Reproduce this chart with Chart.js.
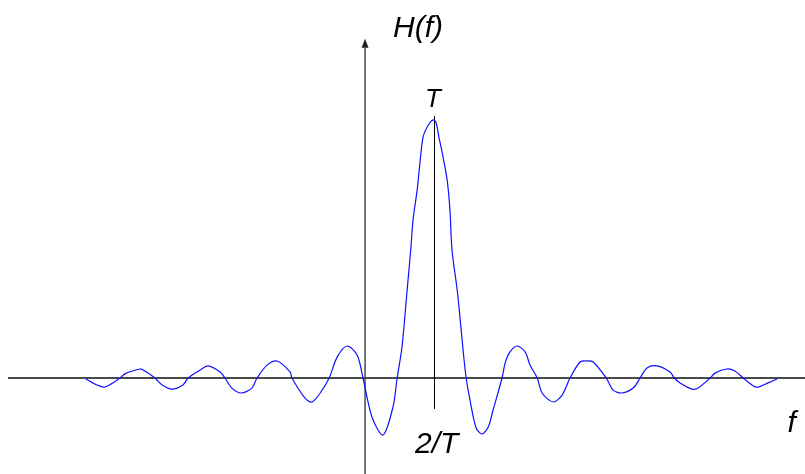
<!DOCTYPE html>
<html>
<head>
<meta charset="utf-8">
<script src="https://cdn.jsdelivr.net/npm/chart.js@4"></script>
<style>
  html, body { margin: 0; padding: 0; background: #fff; }
  #wrap { width: 805px; height: 474px; }
</style>
</head>
<body>
<div id="wrap"><canvas id="grafico"></canvas></div>
<script>
// f en unidades de 1/T, H(f) en unidades de T
const frecuencias = [
    -8.09, -7.77, -7.54, -7.10, -6.96, -6.52, -6.38, -6.09, -5.88, -5.59,
    -5.28, -5.13, -4.78, -4.55, -4.20, -4.06, -3.86, -3.59, -3.28, -3.13,
    -2.84, -2.55, -2.17, -2.12, -1.74, -1.54, -1.30, -1.04, -0.81, -0.52,
    -0.23, -0.06, 0.20, 0.52, 0.81, 0.93, 1.07, 1.22, 1.33, 1.39,
    1.51, 1.59, 1.68, 1.80, 1.96, 2.05, 2.14, 2.26, 2.38, 2.46,
    2.52, 2.67, 2.75, 2.84, 2.93, 3.04, 3.22, 3.39, 3.57, 3.71,
    3.97, 4.06, 4.20, 4.41, 4.64, 4.78, 4.99, 5.13, 5.45, 5.71,
    5.94, 6.23, 6.41, 6.61, 6.99, 7.19, 7.45, 7.77, 7.97, 8.17,
    8.46, 8.84, 8.96, 9.13, 9.48, 9.65, 10.00, 10.14, 10.49, 10.72,
    10.96, 11.25, 11.39, 11.68, 11.94
];
const amplitudes = [
    -0.004, -0.027, -0.035, 0, 0.016, 0.035, 0.027, 0, -0.027, -0.043,
    -0.027, 0, 0.031, 0.047, 0.023, 0, -0.039, -0.058, -0.039, 0,
    0.050, 0.066, 0.023, 0, -0.078, -0.093, -0.058, 0, 0.081, 0.124,
    0.089, 0, -0.151, -0.221, -0.112, 0, 0.120, 0.341, 0.508, 0.612,
    0.729, 0.833, 0.934, 0.973, 1.0, 0.992, 0.934, 0.857, 0.767, 0.651,
    0.496, 0.341, 0.236, 0.109, 0, -0.085, -0.194, -0.217, -0.190, -0.124,
    0, 0.058, 0.101, 0.124, 0.101, 0.050, 0, -0.058, -0.093, -0.066,
    0, 0.062, 0.066, 0.062, 0, -0.047, -0.058, -0.039, 0, 0.039,
    0.047, 0.023, 0, -0.019, -0.043, -0.039, 0, 0.019, 0.035, 0.027,
    0, -0.031, -0.035, -0.019, -0.004
];

const puntos = frecuencias.map((f, i) => ({ x: f, y: amplitudes[i] }));

// ejes dibujados a mano: flecha vertical, eje f, línea en 2/T y etiquetas
const ejesPlugin = {
    id: 'ejes',
    beforeDatasetsDraw(chart) {
        const c = chart.ctx;
        const sx = chart.scales.x, sy = chart.scales.y;
        const px = v => sx.getPixelForValue(v);
        const py = v => sy.getPixelForValue(v);
        c.save();
        c.strokeStyle = '#4a4a4a';
        c.lineWidth = 2;
        // eje horizontal
        c.beginPath();
        c.moveTo(px(-10.35), py(0));
        c.lineTo(sx.right, py(0));
        c.stroke();
        // eje vertical con flecha
        c.lineWidth = 1.5;
        c.beginPath();
        c.moveTo(px(0), sy.bottom);
        c.lineTo(px(0), py(1.28));
        c.stroke();
        c.fillStyle = '#222';
        c.beginPath();
        c.moveTo(px(0), py(1.315));
        c.lineTo(px(0) - 3.5, py(1.28));
        c.lineTo(px(0) + 3.5, py(1.28));
        c.closePath();
        c.fill();
        // línea en f = 2/T
        c.strokeStyle = '#000';
        c.lineWidth = 1;
        c.beginPath();
        c.moveTo(Math.round(px(2)) + 0.5, py(1.016));
        c.lineTo(Math.round(px(2)) + 0.5, py(-0.12));
        c.stroke();
        // etiquetas
        c.fillStyle = '#000';
        c.textBaseline = 'alphabetic';
        c.textAlign = 'left';
        c.font = 'italic 30px "Liberation Sans", Arial, sans-serif';
        c.fillText('H(f)', px(0.81), py(1.322));
        c.fillText('2/T', px(1.45), py(-0.291));
        c.fillText('f', px(12.24), py(-0.209));
        c.font = 'italic 26px "Liberation Sans", Arial, sans-serif';
        c.textAlign = 'center';
        c.fillText('T', px(1.97), py(1.05));
        c.restore();
    }
};

new Chart(document.getElementById('grafico'), {
    type: 'scatter',
    data: {
        datasets: [{
            label: 'H(f)',
            data: puntos,
            showLine: true,
            borderColor: '#1010ff',
            borderWidth: 1.2,
            pointRadius: 0,
            tension: 0.3
        }]
    },
    options: {
        responsive: true,
        maintainAspectRatio: false,
        animation: false,
        layout: { padding: 0 },
        scales: {
            x: { type: 'linear', min: -10.58, max: 12.75, display: false },
            y: { type: 'linear', min: -0.372, max: 1.465, display: false }
        },
        plugins: {
            legend: { display: false },
            tooltip: { enabled: false }
        }
    },
    plugins: [ejesPlugin]
});
</script>
</body>
</html>
